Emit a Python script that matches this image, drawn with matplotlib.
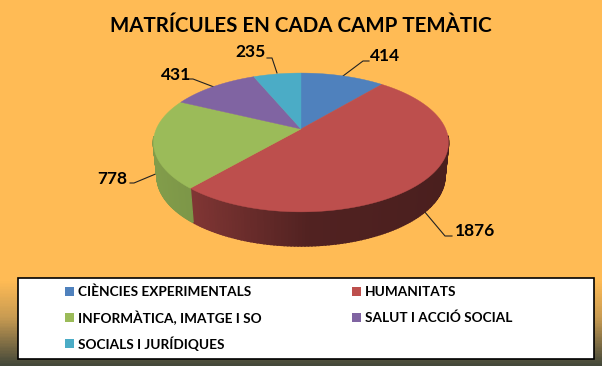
import matplotlib
matplotlib.use("Agg")
import matplotlib.pyplot as plt
import numpy as np
from matplotlib.colors import LinearSegmentedColormap
from matplotlib.patches import Polygon, Rectangle

plt.rcParams['font.family'] = ['Lato', 'DejaVu Sans']

categories = ['CIÈNCIES EXPERIMENTALS', 'HUMANITATS', 'INFORMÀTICA, IMATGE I SO',
              'SALUT I ACCIÓ SOCIAL', 'SOCIALS I JURÍDIQUES']
values = [414, 1876, 778, 431, 235]
colors = ['#4f81bd', '#bd4f4d', '#9bbb59', '#8064a2', '#4bacc6']
title = 'MATRÍCULES EN CADA CAMP TEMÀTIC'

# label position and leader line for every slice, in pixels
label_pos = [(385, 56), (475, 231), (112, 179), (176, 75), (251, 52)]
leaders = [[(369, 61), (363, 61), (343, 76)],
           [(452, 236), (445, 236), (424, 211)],
           [(130, 183), (134, 183), (158, 173)],
           [(187, 79), (193, 79), (214, 87)],
           [(267, 58), (272, 58), (277, 73)]]

# perspective of the pie
cx, cy = 301, 129
a, b, k = 144.7, 66.8, 0.194
depth = 34
shrink = 0.975

# legend grid, in pixels
legend_cols = [65, 352]
legend_rows = [291, 317, 343]


def project(theta, lower=False):
    # theta in radians, clockwise from the top
    u = np.sin(theta)
    v = np.cos(theta)
    w = 1 + k * v
    x = a * u / w
    y = b * v / w
    if lower:
        return cx + x * shrink, cy - y + depth
    return cx + x, cy - y


def shade(color, f):
    c = np.array(matplotlib.colors.to_rgb(color))
    return tuple(c * f)


fig = plt.figure(figsize=(6.02, 3.66), dpi=100)
ax = fig.add_axes([0, 0, 1, 1])
ax.set_xlim(0, 602)
ax.set_ylim(366, 0)
ax.axis('off')

# background
orange = '#ffbb55'
cmap = LinearSegmentedColormap.from_list('bg', [(0, orange), (0.77, orange), (0.87, '#c89b52'),
                                                (1, '#44483a')])
ax.imshow(np.linspace(0, 1, 366).reshape(-1, 1), cmap=cmap, extent=(0, 602, 366, 0),
          aspect='auto', zorder=0)

edges = 2 * np.pi * np.concatenate([[0], np.cumsum(values)]) / sum(values)

# side wall, front slices only (red and green)
for i in [1, 2]:
    t = np.linspace(edges[i], edges[i + 1], 160)
    for t0, t1 in zip(t[:-1], t[1:]):
        x0, y0 = project(t0)
        x1, y1 = project(t1)
        x2, y2 = project(t1, True)
        x3, y3 = project(t0, True)
        if max(y0, y1) < cy + 8:
            continue
        if i == 1:
            # dark on the right, lighter towards the left end
            f = np.interp(x0, [190, 310, 450], [0.68, 0.43, 0.39])
        else:
            f = np.interp(x0, [150, 195], [0.84, 0.80])
        ax.add_patch(Polygon([(x0, y0), (x1, y1), (x2, y2), (x3, y3)], closed=True,
                             fc=shade(colors[i], f), ec=shade(colors[i], f), lw=1.2, zorder=2))

# top face
for i in range(len(values)):
    t = np.linspace(edges[i], edges[i + 1], 120)
    xs, ys = project(t)
    pts = [(cx, cy)] + list(zip(xs, ys))
    ax.add_patch(Polygon(pts, closed=True, fc=colors[i], ec=colors[i], lw=0.3, zorder=3))

for val, pos, line in zip(values, label_pos, leaders):
    ax.plot(*zip(*line), color='#222222', lw=0.8, zorder=1)
    ax.text(pos[0], pos[1], str(val), fontsize=12.5, fontweight='bold', color='black',
            ha='center', va='center', zorder=5)

ax.text(301, 26.5, title, fontsize=14.8, fontweight='bold', color='black', ha='center', va='center')

# legend
ax.add_patch(Rectangle((18, 278), 576, 80.5, fc='white', ec='black', lw=1.2, zorder=4))
for i, name in enumerate(categories):
    x = legend_cols[i % 2]
    y = legend_rows[i // 2]
    ax.add_patch(Rectangle((x, y - 4), 8.5, 8.5, fc=colors[i], ec='none', zorder=5))
    ax.text(x + 13, y, name, fontsize=9.8, fontweight='bold', color='black',
            ha='left', va='center_baseline', zorder=5)

fig.savefig('out.png', dpi=100)
